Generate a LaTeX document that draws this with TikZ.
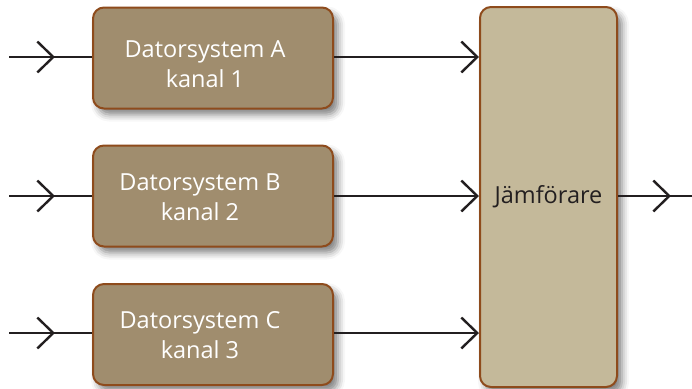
\documentclass[tikz,border=0pt]{standalone}
\usepackage{fontspec}
\setmainfont{Open Sans}
\usetikzlibrary{arrows.meta,shadows.blur,decorations.markings}

\definecolor{boxfill}{HTML}{A08D6E}
\definecolor{boxedge}{HTML}{8E4B1C}
\definecolor{cmpfill}{HTML}{C4B99A}
\definecolor{ink}{HTML}{231F20}

\tikzset{
  chevron/.tip={Straight Barb[length=16pt,width=31pt,line width=2.4pt]},
  wire/.style={draw=ink,line width=2.7pt},
  channel/.style={draw=boxedge,line width=2pt,fill=boxfill,rounded corners=11pt,
    minimum width=240pt,minimum height=101pt,
    blur shadow={shadow xshift=5pt,shadow yshift=-6pt,shadow blur radius=7pt,shadow opacity=50}},
  comparator/.style={channel,fill=cmpfill,text=ink,minimum width=137pt,minimum height=380pt,
    font=\fontsize{23.5pt}{30pt}\selectfont},
  caption/.style={text=white,align=center,inner sep=0pt,
    font=\fontsize{23.5pt}{30pt}\selectfont},
  midarrow/.style={postaction={decorate,decoration={markings,
    mark=at position #1 with {\arrow[ink]{chevron}}}}}
}

\begin{document}
\begin{tikzpicture}[x=1pt,y=-1pt]
  \useasboundingbox (0,0) rectangle (692,388);

  % comparator and the three computer channels
  \node[comparator] (J) at (548.5,197) {Jämförare};
  \node[channel] (A) at (213,58)  {};
  \node[channel] (B) at (213,196) {};
  \node[channel] (C) at (213,334.5) {};

  % channel captions
  \node[caption] (At) at (205,64)  {Datorsystem A\\kanal 1};
  \node[caption] (Bt) at (200,197) {Datorsystem B\\kanal 2};
  \node[caption] (Ct) at (200,335) {Datorsystem C\\kanal 3};

  % input ends and output end
  \coordinate (inA) at (9,57);
  \coordinate (inB) at (9,196);
  \coordinate (inC) at (9,333);
  \coordinate (out) at (692,196);

  % inputs to each channel
  \draw[wire,midarrow=46pt] (inA) -- (inA -| A.west);
  \draw[wire,midarrow=46pt] (inB) -- (inB -| B.west);
  \draw[wire,midarrow=46pt] (inC) -- (inC -| C.west);

  % channel outputs into the comparator
  \draw[wire,-{chevron}] (inA -| A.east) -- (inA -| J.west);
  \draw[wire,-{chevron}] (inB -| B.east) -- (inB -| J.west);
  \draw[wire,-{chevron}] (inC -| C.east) -- (inC -| J.west);

  % comparator output
  \draw[wire,midarrow=53pt] (J.east |- out) -- (out);
\end{tikzpicture}
\end{document}
